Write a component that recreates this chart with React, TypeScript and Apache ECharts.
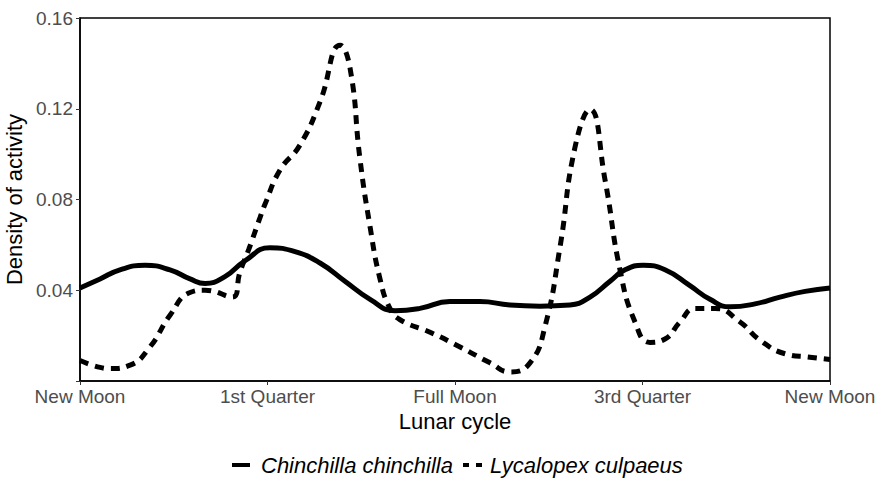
import React, { useEffect, useRef } from "react";
import * as echarts from "echarts";

const phaseLabels = ["New Moon", "1st Quarter", "Full Moon", "3rd Quarter", "New Moon"];
const seriesNames = ["Chinchilla chinchilla", "Lycalopex culpaeus"];

const chinchillaX = [0, 0.107, 0.213, 0.347, 0.48, 0.587, 0.667, 0.773, 0.88, 1.013, 1.147, 1.28, 1.413, 1.547, 1.68, 1.813, 1.973, 2.133, 2.293, 2.453, 2.613, 2.72, 2.827, 2.907, 3.003, 3.12, 3.253, 3.36, 3.467, 3.6, 3.733, 3.867, 4];
const chinchillaY = [0.041, 0.045, 0.049, 0.051, 0.049, 0.045, 0.043, 0.046, 0.053, 0.0587, 0.057, 0.052, 0.044, 0.036, 0.031, 0.032, 0.035, 0.035, 0.0335, 0.033, 0.0335, 0.037, 0.044, 0.049, 0.051, 0.049, 0.042, 0.036, 0.0327, 0.034, 0.037, 0.0395, 0.041];

const culpaeusX = [0, 0.107, 0.16, 0.267, 0.373, 0.48, 0.587, 0.667, 0.813, 0.853, 0.9, 0.96, 0.987, 1.067, 1.173, 1.28, 1.387, 1.44, 1.493, 1.547, 1.6, 1.653, 1.707, 1.867, 2.027, 2.187, 2.293, 2.4, 2.48, 2.56, 2.64, 2.72, 2.8, 2.88, 2.96, 3.04, 3.12, 3.2, 3.28, 3.387, 3.52, 3.627, 3.76, 3.893, 4];
const culpaeusY = [0.009, 0.006, 0.0055, 0.007, 0.015, 0.029, 0.039, 0.040, 0.037, 0.048, 0.058, 0.072, 0.078, 0.093, 0.104, 0.123, 0.148, 0.138, 0.098, 0.068, 0.045, 0.032, 0.027, 0.0215, 0.015, 0.008, 0.004, 0.008, 0.024, 0.059, 0.103, 0.1197, 0.0887, 0.049, 0.026, 0.017, 0.0185, 0.026, 0.032, 0.032, 0.026, 0.018, 0.012, 0.0105, 0.0095];

const yTicks = [0.04, 0.08, 0.12, 0.16];

export default function App() {
  const ref = useRef<HTMLDivElement>(null);
  useEffect(() => {
    if (!ref.current) return;
    const chart = echarts.init(ref.current, null, { renderer: "svg" });
    const font = "Liberation Sans, Arial, sans-serif";
    const dash = [9, 7];
    const legendY = 465;
    chart.setOption({
      animation: false,
      backgroundColor: "#ffffff",
      grid: {
        left: 80,
        right: 48,
        top: 18,
        bottom: 97,
        containLabel: false,
        outerBoundsMode: "none",
        show: true,
        borderColor: "#000000",
        borderWidth: 1.5,
        backgroundColor: "transparent",
      },
      graphic: [
        { type: "line", shape: { x1: 232, y1: legendY, x2: 250, y2: legendY }, style: { stroke: "#000", lineWidth: 4 } },
        {
          type: "text",
          x: 261,
          y: legendY,
          style: { text: seriesNames[0], font: `italic 22px ${font}`, fill: "#000", textVerticalAlign: "middle", verticalAlign: "middle" },
        },
        { type: "line", shape: { x1: 463, y1: legendY, x2: 484, y2: legendY }, style: { stroke: "#000", lineWidth: 4, lineDash: [6, 7] } },
        {
          type: "text",
          x: 490,
          y: legendY,
          style: { text: seriesNames[1], font: `italic 22px ${font}`, fill: "#000", textVerticalAlign: "middle", verticalAlign: "middle" },
        },
      ],
      xAxis: {
        type: "value",
        min: 0,
        max: 4,
        interval: 1,
        name: "Lunar cycle",
        nameLocation: "middle",
        nameGap: 20,
        nameTextStyle: { fontFamily: font, fontSize: 22, color: "#000" },
        axisLine: { show: true, lineStyle: { color: "#000", width: 1.5 } },
        axisTick: { show: true, length: 4, lineStyle: { color: "#333", width: 1 } },
        axisLabel: {
          fontFamily: font,
          fontSize: 19,
          color: "#4d4d4d",
          margin: 6,
          formatter: (v: number) => phaseLabels[Math.round(v)] ?? "",
        },
        splitLine: { show: false },
      },
      yAxis: {
        type: "value",
        min: 0,
        max: 0.16,
        interval: 0.04,
        name: "Density of activity",
        nameLocation: "middle",
        nameGap: 41,
        nameTextStyle: { fontFamily: font, fontSize: 22, color: "#000" },
        axisLine: { show: true, lineStyle: { color: "#000", width: 1.5 } },
        axisTick: { show: true, length: 4, lineStyle: { color: "#333", width: 1 } },
        axisLabel: {
          fontFamily: font,
          fontSize: 19,
          color: "#4d4d4d",
          margin: 7,
          formatter: (v: number) => (yTicks.some((t) => Math.abs(t - v) < 1e-9) ? v.toFixed(2) : ""),
        },
        splitLine: { show: false },
      },
      series: [
        {
          name: seriesNames[0],
          type: "line",
          smooth: 0.5,
          showSymbol: false,
          symbol: "none",
          data: chinchillaX.map((x, i) => [x, chinchillaY[i]]),
          lineStyle: { color: "#000", width: 5 },
          itemStyle: { color: "#000" },
        },
        {
          name: seriesNames[1],
          type: "line",
          smooth: 0.5,
          showSymbol: false,
          symbol: "none",
          data: culpaeusX.map((x, i) => [x, culpaeusY[i]]),
          lineStyle: { color: "#000", width: 5, type: dash },
          itemStyle: { color: "#000" },
        },
      ],
    });
    return () => chart.dispose();
  }, []);
  return <div ref={ref} style={{ position: "absolute", left: 0, top: 0, width: 878, height: 478 }} />;
}
